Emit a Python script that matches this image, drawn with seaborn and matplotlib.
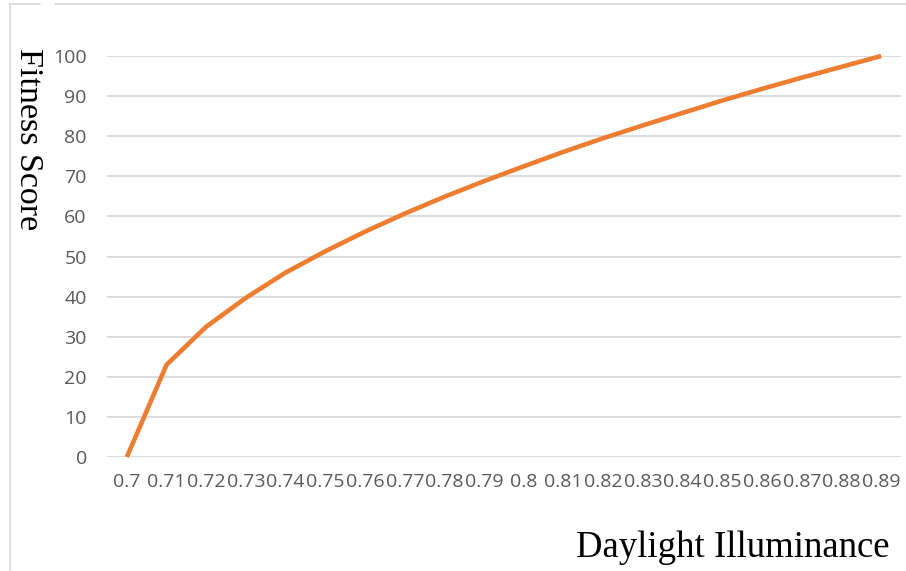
import matplotlib
matplotlib.use("Agg")
import matplotlib.pyplot as plt
from matplotlib.lines import Line2D
import numpy as np
import pandas as pd
import seaborn as sns

# Daylight illuminance categories and fitness scores
illuminance = ["0.7", "0.71", "0.72", "0.73", "0.74", "0.75", "0.76", "0.77", "0.78", "0.79",
               "0.8", "0.81", "0.82", "0.83", "0.84", "0.85", "0.86", "0.87", "0.88", "0.89"]
fitness = [0, 23, 32.5, 39.7, 46, 51.3, 56.2, 60.7, 64.9, 68.8,
           72.5, 76.1, 79.5, 82.7, 85.8, 88.9, 91.8, 94.6, 97.3, 100]
y_ticks = [0, 10, 20, 30, 40, 50, 60, 70, 80, 90, 100]

df = pd.DataFrame({"pos": np.arange(len(illuminance)), "label": illuminance, "score": fitness})

sns.set_theme(style="white")
W, H = 906, 571
fig = plt.figure(figsize=(W / 100, H / 100), dpi=100)
fig.patch.set_facecolor("white")

# axes placed in pixel terms
left, right, top, bottom = 107, 901, 56, 457
ax = fig.add_axes([left / W, 1 - bottom / H, (right - left) / W, (bottom - top) / H])

sns.lineplot(data=df, x="pos", y="score", ax=ax, color="#ED7D31", linewidth=3.3,
             clip_on=False, zorder=3)
for line in ax.lines:
    line.set_solid_capstyle("butt")
    line.set_solid_joinstyle("round")

ax.set_xlim(-0.5, len(illuminance) - 0.5)
ax.set_ylim(0, 100)
ax.set_yticks(y_ticks)
ax.set_xticks(df["pos"])
ax.set_xticklabels(illuminance)
ax.yaxis.grid(True, color="#D9D9D9", linewidth=1.3)
ax.xaxis.grid(False)
for s in ax.spines.values():
    s.set_visible(False)
ax.tick_params(axis="both", length=0, labelsize=14, labelcolor="#595959")
ax.tick_params(axis="x", pad=11.5)
ax.tick_params(axis="y", pad=14.5)
for t in ax.get_xticklabels() + ax.get_yticklabels():
    t.set_fontfamily("Open Sans")
ax.set_xlabel("")
ax.set_ylabel("")

# axis titles
fig.text(890 / W, 1 - 557 / H, "Daylight Illuminance", ha="right", va="baseline",
         fontsize=26.5, family="Liberation Serif", color="#000000")
fig.text(28 / W, 1 - 139 / H, "Fitness Score", ha="center", va="center", rotation=270,
         fontsize=24.5, family="Liberation Serif", color="#000000")

# outer frame lines
y_top = 1 - 4 / H
for x0, x1 in [(10, 40), (55, W)]:
    fig.add_artist(Line2D([x0 / W, x1 / W], [y_top, y_top], transform=fig.transFigure,
                          color="#D9D9D9", linewidth=1.2))
fig.add_artist(Line2D([10 / W, 10 / W], [0, y_top], transform=fig.transFigure,
                      color="#D9D9D9", linewidth=1.2))

fig.savefig("out.png", dpi=100, facecolor="white")
